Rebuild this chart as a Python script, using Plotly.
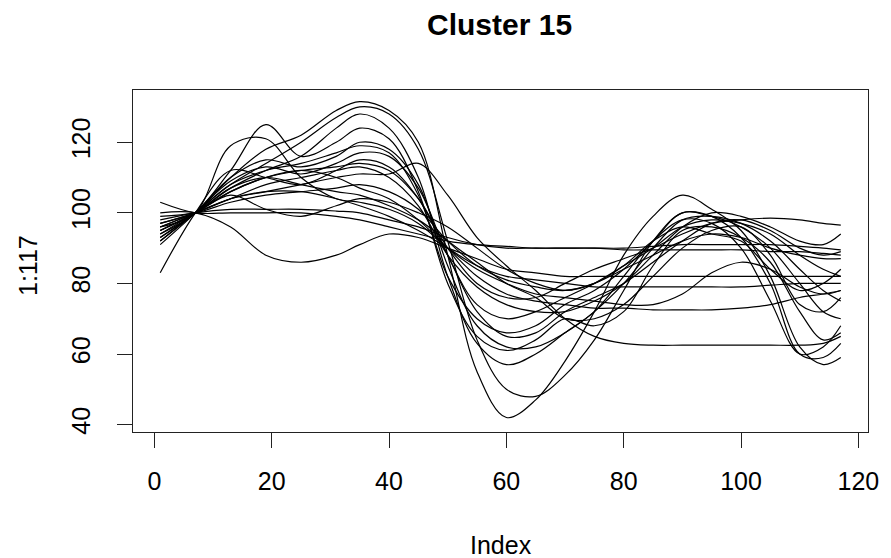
import plotly.graph_objects as go

index_pts = [1, 7, 13, 19, 25, 31, 35, 40, 45, 50, 55, 60, 65, 70, 75, 80, 85, 90, 95, 100, 105, 110, 114, 117]

s01 = [93, 100, 110, 118, 122, 129, 131.5, 129, 120, 88, 55, 42, 47, 58, 72, 88, 99, 105, 101, 95, 82, 62, 57, 59]
s02 = [92, 100, 108, 114, 120, 127, 130, 128, 118, 92, 64, 50, 48, 54, 64, 78, 92, 100, 99, 93, 80, 60, 59, 63]
s03 = [95, 100, 107, 112, 116, 124, 128, 124, 110, 82, 63, 57, 60, 66, 72, 82, 92, 98, 97, 90, 75, 60, 62, 68]
s04 = [94, 100, 112, 125, 116, 120, 124, 121, 106, 80, 65, 61, 64, 70, 68, 72, 85, 95, 96, 93, 86, 72, 64, 66]
s05 = [96, 100, 119, 121, 110, 104, 103, 101, 97, 90, 84, 80, 77, 76, 75, 74, 74, 77, 83, 86, 84, 79, 77, 78]
s06 = [100, 100, 96, 88, 86, 88, 91, 94, 93, 90, 87, 84, 83, 82, 82, 82, 82, 82, 82, 82, 82, 82, 82, 82]
s07 = [98, 100, 101, 101, 101, 100.5, 100, 98, 96, 93, 91, 90, 90, 90, 90, 90, 90.5, 91, 91, 91, 91, 90.5, 90, 89.5]
s08 = [103, 100, 100, 100, 100, 99, 98, 96, 94, 92, 91, 90.5, 90, 90, 90, 89.5, 89.5, 89.5, 89.5, 89.5, 89, 89, 88.5, 88]
s09 = [97, 100, 104, 106, 106, 104, 102, 99, 95, 90, 85, 82, 81, 80, 79, 79, 79, 79, 79, 79, 79.5, 80, 80, 80]
s10 = [95, 100, 106, 110, 112, 110, 107, 104, 98, 90, 82, 77, 75, 74, 73, 73, 72.5, 72.5, 72.5, 73, 74, 76, 77, 78]
s11 = [96, 100, 104, 106, 108, 110, 111, 111, 114, 105, 93, 85, 78, 70, 65, 63, 62.5, 62.5, 62.5, 62.5, 62.5, 62.5, 63, 65]
s12 = [91, 100, 110, 115, 113, 116, 120, 118, 108, 85, 68, 62, 62, 66, 72, 80, 90, 98, 99, 97, 92, 84, 78, 75]
s13 = [93, 100, 108, 112, 114, 117, 119, 117, 105, 82, 70, 66, 68, 74, 78, 84, 92, 100, 99, 96, 90, 80, 72, 70]
s14 = [92, 100, 109, 113, 111, 114, 117, 116, 107, 88, 74, 70, 72, 76, 80, 85, 90, 96, 98, 97, 94, 88, 84, 82]
s15 = [94, 100, 106, 110, 112, 113, 114, 112, 104, 90, 80, 76, 76, 80, 84, 87, 90, 94, 97, 98, 98.5, 98, 97, 96.5]
s16 = [97, 100, 104, 108, 110, 112, 113, 110, 102, 88, 79, 74, 72, 72, 75, 80, 88, 96, 100, 99, 96, 92, 91, 94]
s17 = [99, 100, 103, 105, 106, 107, 108, 106, 101, 92, 85, 81, 79, 78, 80, 84, 88, 92, 94, 93, 90, 88, 87, 87]
s18 = [83, 100, 112, 110, 108, 112, 115, 113, 104, 88, 72, 65, 66, 72, 76, 80, 86, 92, 97, 98, 95, 90, 88, 89]
s19 = [95, 100, 107, 110, 108, 106, 105, 102, 98, 92, 86, 80, 76, 70, 70, 74, 82, 90, 95, 96, 88, 74, 72, 76]
s20 = [96, 100, 105, 101, 99, 102, 104, 103, 100, 96, 90, 84, 80, 78, 80, 85, 92, 96, 94, 92, 84, 78, 80, 84]

series = [s01, s02, s03, s04, s05, s06, s07, s08, s09, s10,
          s11, s12, s13, s14, s15, s16, s17, s18, s19, s20]

x_ticks = [0, 20, 40, 60, 80, 100, 120]
y_ticks = [40, 60, 80, 100, 120]

title_text = "Cluster 15"
x_label = "Index"
y_label = "1:117"

FONT = "Liberation Sans, Arial, Helvetica, sans-serif"

fig = go.Figure()
for s in series:
    fig.add_trace(go.Scatter(
        x=index_pts, y=s, mode="lines",
        line=dict(color="black", width=1.2, shape="spline", smoothing=1.0),
        showlegend=False, hoverinfo="skip"))

axis_common = dict(
    showgrid=False, zeroline=False,
    showline=True, mirror=True, linecolor="#222", linewidth=1,
    ticks="outside", ticklen=15, tickwidth=1, tickcolor="#222",
    tickfont=dict(family=FONT, size=25, color="black"),
)

fig.update_layout(
    width=891, height=558,
    margin=dict(l=133, r=16, t=90, b=126),
    paper_bgcolor="white", plot_bgcolor="white",
    xaxis=dict(range=[-3.64, 121.64], tickvals=x_ticks, ticklabelstandoff=12, **axis_common),
    yaxis=dict(range=[37.9, 134.8], tickvals=y_ticks, tickangle=-90, ticklabelstandoff=17, **axis_common),
    annotations=[
        dict(text="<b>" + title_text + "</b>", x=(503 - 133) / 742, y=(432 - 24) / 342, xref="paper", yref="paper",
             showarrow=False, font=dict(family=FONT, size=30, color="black"),
             xanchor="center", yanchor="middle"),
        dict(text=x_label, x=(504 - 133) / 742, y=(432 - 545) / 342, xref="paper", yref="paper",
             showarrow=False, font=dict(family=FONT, size=25, color="black"),
             xanchor="center", yanchor="middle"),
        dict(text=y_label, x=(27 - 133) / 742, y=(432 - 266) / 342, xref="paper", yref="paper",
             showarrow=False, textangle=-90, font=dict(family=FONT, size=25, color="black"),
             xanchor="center", yanchor="middle"),
    ],
)

fig.write_html("out.html")
